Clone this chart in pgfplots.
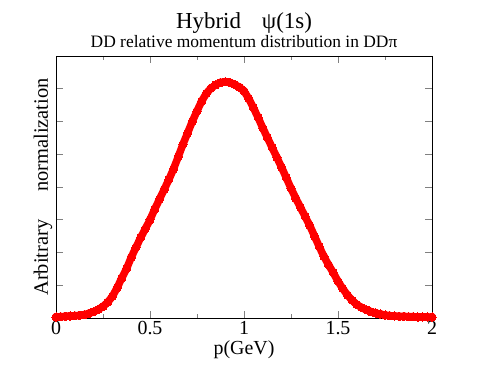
\documentclass[border=0pt]{standalone}
\usepackage{fontspec}
\setmainfont{Liberation Serif}
\usepackage{pgfplots}
\pgfplotsset{compat=1.18}
\usepackage{pgfplotstable}
\usetikzlibrary{calc}

% p (GeV) vs distribution
\pgfplotstableread{
x y
0.000 0.03
0.025 0.04
0.050 0.05
0.075 0.06
0.100 0.07
0.125 0.08
0.150 0.10
0.175 0.14
0.200 0.19
0.225 0.26
0.250 0.35
0.275 0.48
0.300 0.66
0.325 0.92
0.350 1.22
0.375 1.50
0.400 1.85
0.425 2.15
0.450 2.45
0.475 2.72
0.500 3.00
0.525 3.32
0.550 3.62
0.575 3.92
0.600 4.22
0.625 4.55
0.650 4.92
0.675 5.30
0.700 5.65
0.725 6.00
0.750 6.32
0.775 6.62
0.800 6.86
0.825 7.02
0.850 7.12
0.875 7.19
0.900 7.21
0.925 7.19
0.950 7.13
0.975 7.05
1.000 6.93
1.025 6.70
1.050 6.42
1.075 6.12
1.100 5.80
1.125 5.50
1.150 5.20
1.175 4.90
1.200 4.60
1.225 4.28
1.250 3.96
1.275 3.66
1.300 3.38
1.325 3.10
1.350 2.82
1.375 2.50
1.400 2.18
1.425 1.88
1.450 1.62
1.475 1.38
1.500 1.12
1.525 0.90
1.550 0.70
1.575 0.54
1.600 0.41
1.625 0.32
1.650 0.25
1.675 0.19
1.700 0.15
1.725 0.12
1.750 0.09
1.775 0.07
1.800 0.06
1.825 0.05
1.850 0.05
1.875 0.04
1.900 0.04
1.925 0.03
1.950 0.03
1.975 0.03
2.000 0.03
}\distdata

\begin{document}
\begin{tikzpicture}
\begin{axis}[
    name=ax,
    scale only axis,
    width=376bp, height=262bp,
    xmin=0, xmax=2, ymin=0, ymax=8,
    clip=false,
    xtick={0,0.5,1,1.5,2},
    minor x tick num=1,
    ytick={1,2,3,4,5,6,7},
    yticklabels={},
    tick align=inside,
    major tick length=7bp,
    minor tick length=4bp,
    tick style={gray, line width=0.8bp},
    axis line style={black, line width=0.8bp},
    /pgf/number format/assume math mode=true,
    ticklabel style={font=\fontsize{20}{20}\selectfont},
    xlabel={p(GeV)},
    ylabel={Arbitrary\hspace{28bp}normalization},
    xlabel style={at={(axis description cs:0.5,0)}, anchor=center, yshift=-32bp,
                  font=\fontsize{20}{20}\selectfont},
    ylabel style={at={(axis description cs:0,0.5)}, anchor=center, yshift=13bp,
                  font=\fontsize{20.5}{20.5}\selectfont},
]
\addplot[red, line width=7.5bp, line join=round, line cap=round, mark=*, mark size=4.1bp,
         mark options={line width=0pt, fill=red}] table {\distdata};
\end{axis}
\node[font=\fontsize{23}{23}\selectfont, anchor=base] at ($(ax.north)+(0,27.7bp)$) {Hybrid\hspace{21bp}ψ(1s)};
\node[font=\fontsize{17.5}{17.5}\selectfont, anchor=base] at ($(ax.north)+(0,8.7bp)$) {DD relative momentum distribution in DDπ};
\path ($(ax.south west)+(-56bp,-56bp)$) rectangle ($(ax.north east)+(53bp,56bp)$);
\end{tikzpicture}
\end{document}
